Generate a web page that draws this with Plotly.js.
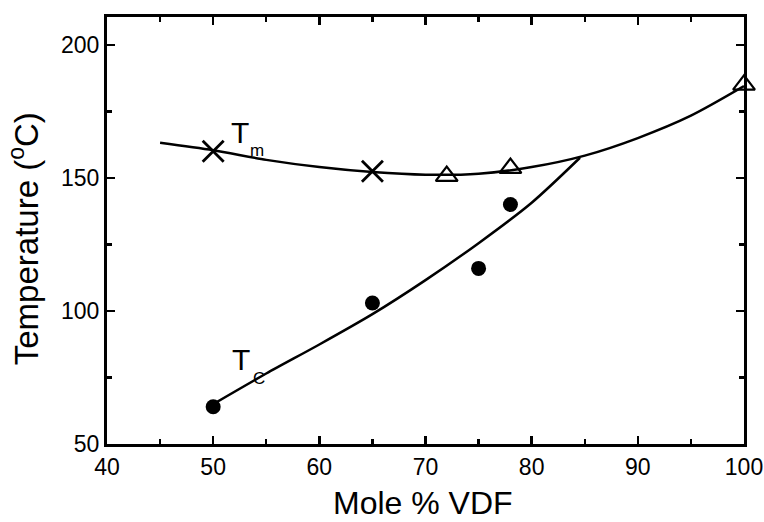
<!DOCTYPE html>
<html><head><meta charset="utf-8">
<script src="https://cdn.plot.ly/plotly-3.0.1.min.js"></script>
<style>html,body{margin:0;padding:0;background:#fff}</style>
</head><body><div id="chart" style="width:764px;height:522px"></div>
<script>
// Tm data (crosses and triangles), Tc data (filled circles)
const tmCrossX = [50, 65];
const tmCrossY = [160, 152.5];
const tmTriX = [72, 78, 100];
const tmTriY = [150.7, 153.7, 185];
const tcX = [50, 65, 75, 78];
const tcY = [64, 103, 116, 140];
// Guide curves as drawn in the figure
const tmCurveX = [45, 50, 55, 60, 65, 70, 75, 80, 85, 90, 95, 100];
const tmCurveY = [163.2, 160.4, 156.8, 154.1, 152.2, 151.2, 151.6, 154.1, 158.4, 165, 173.4, 184.5];
const tcCurveX = [50, 55, 60, 65, 70, 75, 80, 84.55];
const tcCurveY = [65, 76.5, 87.4, 98.8, 111.6, 125.5, 140.7, 157.6];
// Curve labels: main letter and subscript
const labelMain = ['T', 'T'];
const labelSub = ['m', 'C'];
const xTitle = 'Mole % VDF';
const yTitle = 'Temperature (<sup>o</sup>C)';

const black = '#000';
const data = [
  {x: tmCurveX, y: tmCurveY, mode: 'lines', line: {color: black, width: 2.5, shape: 'spline', smoothing: 0.8}, hoverinfo: 'skip'},
  {x: tcCurveX, y: tcCurveY, mode: 'lines', line: {color: black, width: 2.5, shape: 'spline', smoothing: 0.8}, hoverinfo: 'skip'},
  {x: tmCrossX, y: tmCrossY, mode: 'markers', marker: {symbol: 'x-thin-open', size: 21, color: black, line: {color: black, width: 2.8}}},
  {x: tmTriX, y: tmTriY, mode: 'markers', marker: {symbol: 'triangle-up-open', size: 19, color: black, line: {color: black, width: 2.2}}},
  {x: tcX, y: tcY, mode: 'markers', marker: {symbol: 'circle', size: 15, color: black, line: {width: 0}}}
];
const fam = 'Liberation Sans, Arial, sans-serif';
const mainFont = {size: 30, family: fam, color: black};
const subFont = {size: 17, family: fam, color: black};
const titleFont = {size: 32, family: fam, color: black};
const layout = {
  width: 764, height: 522,
  margin: {l: 107, r: 20, t: 17, b: 78},
  paper_bgcolor: '#fff', plot_bgcolor: '#fff',
  showlegend: false,
  font: {family: fam, color: black},
  xaxis: {
    range: [40, 100], dtick: 10, tick0: 40,
    ticks: 'inside', ticklen: 8, tickwidth: 2.5, tickcolor: black,
    minor: {dtick: 5, ticks: 'inside', ticklen: 5, tickwidth: 2.2, tickcolor: black},
    showline: true, linewidth: 3, linecolor: black, mirror: 'allticks',
    showgrid: false, zeroline: false, ticklabeloverflow: 'allow',
    tickfont: {size: 23, family: fam, color: black}
  },
  yaxis: {
    range: [50, 210.5], dtick: 50, tick0: 50,
    ticks: 'inside', ticklen: 8, tickwidth: 2.5, tickcolor: black,
    minor: {dtick: 25, ticks: 'inside', ticklen: 5, tickwidth: 2.2, tickcolor: black},
    showline: true, linewidth: 3, linecolor: black, mirror: 'allticks',
    showgrid: false, zeroline: false, ticklabeloverflow: 'allow',
    tickfont: {size: 23, family: fam, color: black}
  },
  annotations: [
    {x: 51.45, y: 167.1, text: labelMain[0], font: mainFont},
    {x: 53.3, y: 160.2, text: labelSub[0], font: subFont},
    {x: 51.6, y: 81.6, text: labelMain[1], font: mainFont},
    {x: 53.6, y: 74.6, text: labelSub[1], font: subFont}
  ].map(a => Object.assign({xref: 'x', yref: 'y', showarrow: false, xanchor: 'left', yanchor: 'middle'}, a)).concat([
    {xref: 'paper', yref: 'paper', x: 0.4953, y: -0.138, text: xTitle, showarrow: false, xanchor: 'center', yanchor: 'middle', font: titleFont},
    {xref: 'paper', yref: 'paper', x: -0.13, y: 0.48, text: yTitle, textangle: -90, showarrow: false, xanchor: 'center', yanchor: 'middle', font: {size: 33, family: fam, color: black}}
  ])
};
Plotly.newPlot('chart', data.map(t => Object.assign({cliponaxis: false}, t)), layout, {staticPlot: true, displayModeBar: false});
</script></body></html>
